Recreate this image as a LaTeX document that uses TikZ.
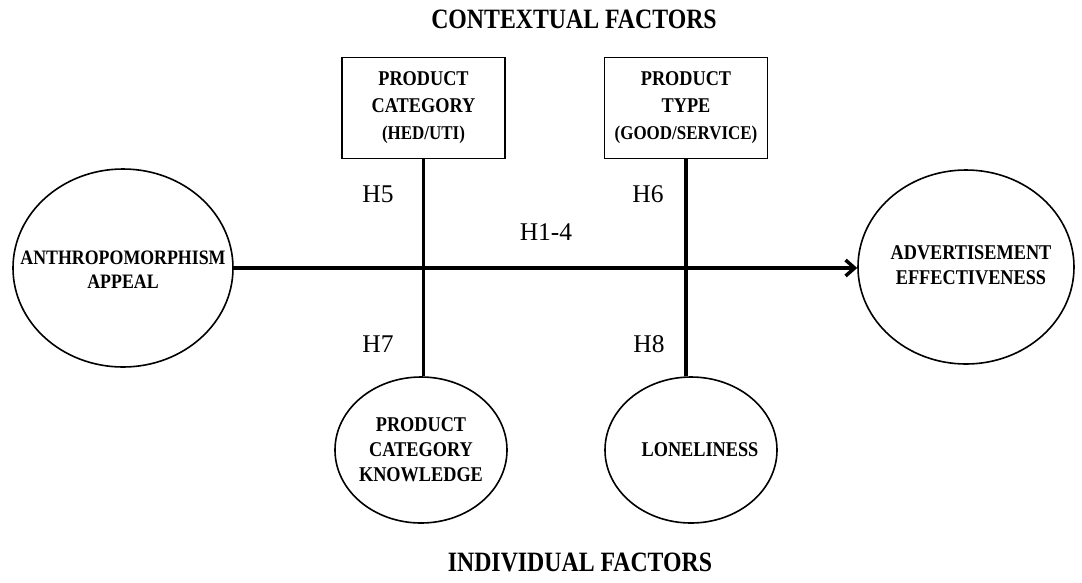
\documentclass[tikz,border=0pt]{standalone}
\usepackage{fontspec}
\setmainfont{Liberation Serif}[FakeStretch=0.87]
\newfontfamily\titlefont{Liberation Serif}[FakeStretch=0.85]
\newfontfamily\hfont{Liberation Serif}
\usetikzlibrary{shapes.geometric,arrows.meta}
\tikzset{
  title/.style={font=\titlefont\bfseries\fontsize{28}{32}\selectfont, inner sep=0pt},
  boxnode/.style={draw, line width=1.6pt, minimum width=163pt, minimum height=101pt, inner sep=0pt, align=center, font=\bfseries\fontsize{21}{27}\selectfont},
  ellbig/.style={draw, ellipse, line width=1.6pt, inner sep=0pt},
  elltext/.style={align=center, inner sep=0pt, font=\bfseries\fontsize{21}{25}\selectfont},
  hlabel/.style={font=\hfont\fontsize{25.5}{28}\selectfont, inner sep=0pt},
  thick line/.style={line width=3.5pt},
}
\begin{document}
\begin{tikzpicture}[x=1pt,y=-1pt]
\useasboundingbox (0,0) rectangle (1082,582);
% titles
\node[title] (ctx) at (574,19) {CONTEXTUAL FACTORS};
\node[title] (ind) at (580,562) {INDIVIDUAL FACTORS};
% boxes
\node[boxnode] (cat) at (423.5,108) {PRODUCT\\CATEGORY\\{\fontsize{19.5}{24}\selectfont(HED/UTI)}};
\node[boxnode] (typ) at (686,108) {PRODUCT\\TYPE\\{\fontsize{19.5}{24}\selectfont(GOOD/SERVICE)}};
% ellipses
\node[ellbig, minimum width=220pt, minimum height=198pt] (ant) at (123,268) {};
\node[elltext, font=\bfseries\fontsize{20.5}{24}\selectfont] (antT) at (123,270) {ANTHROPOMORPHISM\\APPEAL};
\node[ellbig, minimum width=216pt, minimum height=194pt] (adv) at (966,267) {};
\node[elltext] (advT) at (971,265) {ADVERTISEMENT\\EFFECTIVENESS};
\node[ellbig, minimum width=172pt, minimum height=146pt] (kn) at (421,450) {};
\node[elltext] (knT) at (kn) {PRODUCT\\CATEGORY\\KNOWLEDGE};
\node[ellbig, minimum width=172pt, minimum height=146pt] (lon) at (691,450) {};
\node[elltext] (lonT) at (700,450) {LONELINESS};
% connectors
\draw[thick line, -{Straight Barb[length=9pt,width=16pt]}] (ant.east) -- (ant.east -| adv.west);
\draw[thick line] (cat.south) -- (cat.south |- kn.north);
\draw[thick line] (typ.south) -- (typ.south |- lon.north);
% labels
\node[hlabel] (h5) at (378,194) {H5};
\node[hlabel] (h6) at (648,194) {H6};
\node[hlabel] (h14) at (546,232) {H1-4};
\node[hlabel] (h7) at (378,344) {H7};
\node[hlabel] (h8) at (649,344) {H8};
\end{tikzpicture}
\end{document}
